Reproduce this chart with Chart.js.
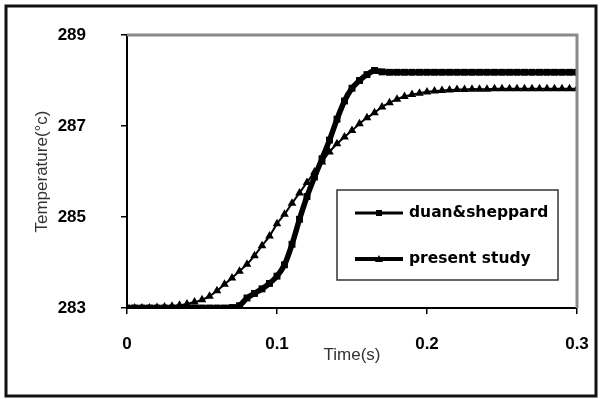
<!DOCTYPE html>
<html>
<head>
<meta charset="utf-8">
<script src="https://cdn.jsdelivr.net/npm/chart.js@4/dist/chart.umd.min.js"></script>
<style>
    html, body { margin: 0; padding: 0; background: #fff; }
    #box { width: 601px; height: 399px; }
</style>
</head>
<body>
<div id="box"><canvas id="graficoTemperatura"></canvas></div>
<script>
// tempos (s), passo de 0.005
const tempos = [
    0, 0.005, 0.01, 0.015, 0.02, 0.025, 0.03, 0.035, 0.04, 0.045,
    0.05, 0.055, 0.06, 0.065, 0.07, 0.075, 0.08, 0.085, 0.09, 0.095,
    0.1, 0.105, 0.11, 0.115, 0.12, 0.125, 0.13, 0.135, 0.14, 0.145,
    0.15, 0.155, 0.16, 0.165, 0.17, 0.175, 0.18, 0.185, 0.19, 0.195,
    0.2, 0.205, 0.21, 0.215, 0.22, 0.225, 0.23, 0.235, 0.24, 0.245,
    0.25, 0.255, 0.26, 0.265, 0.27, 0.275, 0.28, 0.285, 0.29, 0.295,
    0.3
];

const duanSheppard = [
    283.00, 283.00, 283.00, 283.00, 283.00, 283.00, 283.00, 283.00, 283.00, 283.00,
    283.00, 283.00, 283.00, 283.00, 283.01, 283.05, 283.22, 283.32, 283.42, 283.54,
    283.70, 283.95, 284.40, 284.95, 285.45, 285.88, 286.28, 286.69, 287.15, 287.55,
    287.83, 288.00, 288.13, 288.22, 288.19, 288.18, 288.18, 288.18, 288.18, 288.18,
    288.18, 288.18, 288.18, 288.18, 288.18, 288.18, 288.18, 288.18, 288.18, 288.18,
    288.18, 288.18, 288.18, 288.18, 288.18, 288.18, 288.18, 288.18, 288.18, 288.18,
    288.18
];

const presenteEstudo = [
    283.00, 283.00, 283.00, 283.00, 283.01, 283.02, 283.04, 283.06, 283.09, 283.13,
    283.18, 283.26, 283.38, 283.52, 283.66, 283.81, 283.96, 284.15, 284.37, 284.58,
    284.85, 285.06, 285.30, 285.53, 285.76, 285.99, 286.21, 286.43, 286.61, 286.76,
    286.90, 287.05, 287.18, 287.29, 287.42, 287.51, 287.59, 287.65, 287.69, 287.72,
    287.75, 287.77, 287.78, 287.79, 287.80, 287.80, 287.81, 287.81, 287.81, 287.82,
    287.82, 287.82, 287.82, 287.82, 287.82, 287.82, 287.82, 287.82, 287.82, 287.82,
    287.82
];

const ticksX = [0, 0.1, 0.2, 0.3];
const ticksY = [283, 285, 287, 289];
const nomesSeries = ["duan&sheppard", "present study"];

function pontos(valores) {
    return tempos.map((t, i) => ({ x: t, y: valores[i] }));
}

// moldura externa + bordas cinza do grafico + legenda em caixa
const molduraPlugin = {
    id: "moldura",
    beforeDraw(chart) {
        const c = chart.ctx;
        c.save();
        c.fillStyle = "#fff";
        c.fillRect(0, 0, chart.width, chart.height);
        c.restore();
    },
    afterDraw(chart) {
        const c = chart.ctx;
        const a = chart.chartArea;
        c.save();
        // topo e direita em cinza
        c.strokeStyle = "#8a8a8a";
        c.lineWidth = 3;
        c.beginPath();
        c.moveTo(a.left, a.top);
        c.lineTo(a.right, a.top);
        c.lineTo(a.right, a.bottom);
        c.stroke();

        // moldura preta de fora
        c.strokeStyle = "#111";
        c.lineWidth = 3;
        c.strokeRect(6, 6, chart.width - 11, chart.height - 9);

        // caixa da legenda
        const bx = a.left + 210, by = a.top + 155, bw = 221, bh = 90;
        c.fillStyle = "#fff";
        c.fillRect(bx, by, bw, bh);
        c.strokeStyle = "#333";
        c.lineWidth = 1.5;
        c.strokeRect(bx, by, bw, bh);

        c.font = "bold 15.5px 'DejaVu Sans'";
        c.textBaseline = "middle";
        c.fillStyle = "#000";
        chart.data.datasets.forEach((ds, i) => {
            const y = by + 23 + i * 46;
            c.strokeStyle = "#000";
            c.lineWidth = i === 0 ? 3 : 4;
            c.beginPath();
            c.moveTo(bx + 18, y);
            c.lineTo(bx + 66, y);
            c.stroke();
            c.beginPath();
            if (i === 0) {
                c.rect(bx + 39, y - 3, 6, 6);
            } else {
                c.moveTo(bx + 42, y - 4);
                c.lineTo(bx + 46, y + 3);
                c.lineTo(bx + 38, y + 3);
                c.closePath();
            }
            c.fill();
            c.fillText(nomesSeries[i], bx + 72, y);
        });
        c.restore();
    }
};

const ctx = document.getElementById("graficoTemperatura");

new Chart(ctx, {
    type: "line",
    data: {
        datasets: [
            {
                label: nomesSeries[0],
                data: pontos(duanSheppard),
                borderColor: "#000",
                backgroundColor: "#000",
                borderWidth: 5.5,
                pointStyle: "rect",
                pointRadius: 1,
                tension: 0.25
            },
            {
                label: nomesSeries[1],
                data: pontos(presenteEstudo),
                borderColor: "#000",
                backgroundColor: "#000",
                borderWidth: 2,
                pointStyle: "triangle",
                pointRadius: 3,
                tension: 0.25
            }
        ]
    },
    options: {
        responsive: true,
        maintainAspectRatio: false,
        animation: false,
        layout: { padding: { left: 0, top: 35, right: 24, bottom: 0 } },
        plugins: {
            legend: { display: false },
            tooltip: { enabled: false }
        },
        scales: {
            x: {
                type: "linear",
                min: 0,
                max: 0.3,
                afterBuildTicks: (s) => { s.ticks = ticksX.map((v) => ({ value: v })); },
                // o padding dos ticks nao deve empurrar a area do grafico
                afterFit: (s) => { s.height = 91; s.paddingLeft = 0; s.paddingRight = 0; },
                ticks: {
                    color: "#000",
                    padding: 20,
                    maxRotation: 0,
                    font: { family: "'Liberation Sans'", size: 17, weight: "bold" },
                    callback: (v) => String(Number(v.toFixed(1)))
                },
                grid: { drawOnChartArea: false, drawTicks: true, tickLength: 6, color: "#000", lineWidth: 1.5 },
                border: { display: true, color: "#000", width: 2 },
                title: {
                    display: true,
                    text: "Time(s)",
                    color: "#333",
                    padding: { top: 0, bottom: 33 },
                    font: { family: "'Liberation Sans'", size: 17 }
                }
            },
            y: {
                min: 283,
                max: 289,
                afterBuildTicks: (s) => { s.ticks = ticksY.map((v) => ({ value: v })); },
                afterFit: (s) => { s.width = 127; s.paddingTop = 0; s.paddingBottom = 0; },
                ticks: {
                    color: "#000",
                    padding: 35,
                    font: { family: "'Liberation Sans'", size: 17, weight: "bold" }
                },
                grid: { drawOnChartArea: false, drawTicks: true, tickLength: 6, color: "#000", lineWidth: 1.5 },
                border: { display: true, color: "#000", width: 2 },
                title: {
                    display: true,
                    text: "Temperature(°c)",
                    color: "#333",
                    padding: { top: 32, bottom: 0 },
                    font: { family: "'Liberation Sans'", size: 17 }
                }
            }
        }
    },
    plugins: [molduraPlugin]
});
</script>
</body>
</html>
